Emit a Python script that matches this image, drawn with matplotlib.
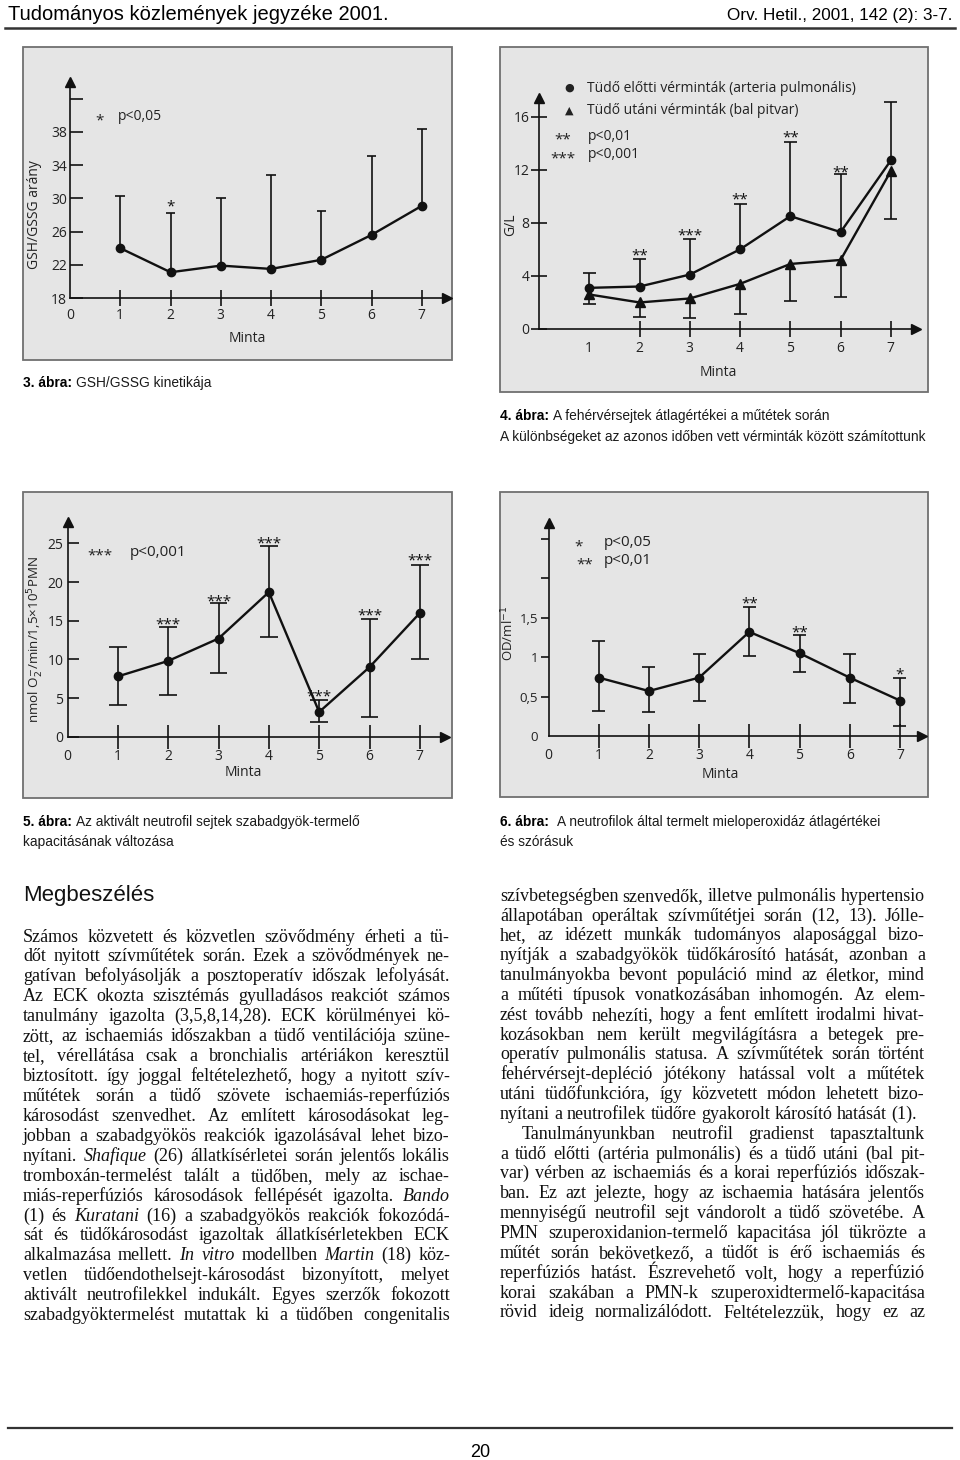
import matplotlib
matplotlib.use('Agg')
import matplotlib.pyplot as plt
import numpy as np
from matplotlib.patches import Rectangle
from matplotlib.lines import Line2D

# ---------------- data ----------------
minta = [1, 2, 3, 4, 5, 6, 7]

# 3. ábra  GSH/GSSG
gsh_mean = [24.0, 21.1, 21.9, 21.5, 22.6, 25.6, 29.1]
gsh_upper = [30.3, 28.2, 30.0, 32.8, 28.5, 35.1, 38.4]
gsh_stars = ['', '*', '', '', '', '', '']
gsh_star_y = [0, 29.6, 0, 0, 0, 0, 0]
gsh_yticks = [18, 22, 26, 30, 34, 38, 42]
gsh_yticklabels = ['18', '22', '26', '30', '34', '38', '']

# 4. ábra  fehérvérsejtek (G/L)
wbc_pre_mean = [3.1, 3.2, 4.1, 6.0, 8.5, 7.3, 12.7]
wbc_pre_upper = [4.2, 5.3, 6.8, 9.4, 14.1, 11.7, 17.1]
wbc_post_mean = [2.6, 2.0, 2.3, 3.4, 4.9, 5.2, 11.9]
wbc_post_lower = [1.9, 0.9, 0.8, 1.1, 2.1, 2.4, 8.3]
wbc_stars = ['', '**', '***', '**', '**', '**', '']
wbc_star_y = [0, 5.9, 7.4, 10.1, 14.8, 12.2, 0]
wbc_yticks = [0, 4, 8, 12, 16]

# 5. ábra  szabadgyök-termelő kapacitás
pmn_mean = [7.8, 9.8, 12.7, 18.7, 3.2, 9.0, 16.0]
pmn_upper = [11.6, 14.2, 17.3, 24.7, 4.7, 15.2, 22.2]
pmn_lower = [4.1, 5.4, 8.2, 12.9, 1.9, 2.6, 10.1]
pmn_stars = ['', '***', '***', '***', '***', '***', '***']
pmn_star_y = [0, 15.2, 18.1, 25.7, 5.8, 16.3, 23.5]
pmn_yticks = [0, 5, 10, 15, 20, 25]

# 6. ábra  mieloperoxidáz
mpo_mean = [0.74, 0.57, 0.74, 1.32, 1.05, 0.74, 0.45]
mpo_upper = [1.20, 0.88, 1.04, 1.63, 1.28, 1.04, 0.73]
mpo_lower = [0.32, 0.31, 0.45, 1.02, 0.81, 0.42, 0.13]
mpo_stars = ['', '', '', '**', '**', '', '*']
mpo_star_y = [0, 0, 0, 1.75, 1.37, 0, 0.85]
mpo_yticks = [0, 0.5, 1.0, 1.5, 2.0, 2.5]
mpo_yticklabels = ['0', '0,5', '1', '1,5', '', '']

xticks = [0, 1, 2, 3, 4, 5, 6, 7]

header_left = 'Tudományos közlemények jegyzéke 2001.'
header_right = 'Orv. Hetil., 2001, 142 (2): 3-7.'
page_number = '20'

cap3 = [('3. ábra:', ' GSH/GSSG kinetikája')]
cap4 = [('4. ábra:', ' A fehérvérsejtek átlagértékei a műtétek során'),
        ('', 'A különbségeket az azonos időben vett vérminták között számítottunk')]
cap5 = [('5. ábra:', ' Az aktivált neutrofil sejtek szabadgyök-termelő'),
        ('', 'kapacitásának változása')]
cap6 = [('6. ábra:', '  A neutrofilok által termelt mieloperoxidáz átlagértékei'),
        ('', 'és szórásuk')]

section_title = 'Megbeszélés'

left_lines = [
    "Számos közvetett és közvetlen szövődmény érheti a tü-",
    "dőt nyitott szívműtétek során. Ezek a szövődmények ne-",
    "gatívan befolyásolják a posztoperatív időszak lefolyását.",
    "Az ECK okozta szisztémás gyulladásos reakciót számos",
    "tanulmány igazolta (3,5,8,14,28). ECK körülményei kö-",
    "zött, az ischaemiás időszakban a tüdő ventilációja szüne-",
    "tel, vérellátása csak a bronchialis artériákon keresztül",
    "biztosított. így joggal feltételezhető, hogy a nyitott szív-",
    "műtétek során a tüdő szövete ischaemiás-reperfúziós",
    "károsodást szenvedhet. Az említett károsodásokat leg-",
    "jobban a szabadgyökös reakciók igazolásával lehet bizo-",
    "nyítani. _Shafique_ (26) állatkísérletei során jelentős lokális",
    "tromboxán-termelést talált a tüdőben, mely az ischae-",
    "miás-reperfúziós károsodások fellépését igazolta. _Bando_",
    "(1) és _Kuratani_ (16) a szabadgyökös reakciók fokozódá-",
    "sát és tüdőkárosodást igazoltak állatkísérletekben ECK",
    "alkalmazása mellett. _In_ _vitro_ modellben _Martin_ (18) köz-",
    "vetlen tüdőendothelsejt-károsodást bizonyított, melyet",
    "aktivált neutrofilekkel indukált. Egyes szerzők fokozott",
    "szabadgyöktermelést mutattak ki a tüdőben congenitalis",
]
right_lines = [
    "szívbetegségben szenvedők, illetve pulmonális hypertensio",
    "állapotában operáltak szívműtétjei során (12, 13). Jólle-",
    "het, az idézett munkák tudományos alaposággal bizo-",
    "nyítják a szabadgyökök tüdőkárosító hatását, azonban a",
    "tanulmányokba bevont populáció mind az életkor, mind",
    "a műtéti típusok vonatkozásában inhomogén. Az elem-",
    "zést tovább nehezíti, hogy a fent említett irodalmi hivat-",
    "kozásokban nem került megvilágításra a betegek pre-",
    "operatív pulmonális statusa. A szívműtétek során történt",
    "fehérvérsejt-depléció jótékony hatással volt a műtétek",
    "utáni tüdőfunkcióra, így közvetett módon lehetett bizo-",
    "nyítani a neutrofilek tüdőre gyakorolt károsító hatását (1).",
    "Tanulmányunkban neutrofil gradienst tapasztaltunk",
    "a tüdő előtti (artéria pulmonális) és a tüdő utáni (bal pit-",
    "var) vérben az ischaemiás és a korai reperfúziós időszak-",
    "ban. Ez azt jelezte, hogy az ischaemia hatására jelentős",
    "mennyiségű neutrofil sejt vándorolt a tüdő szövetébe. A",
    "PMN szuperoxidanion-termelő kapacitása jól tükrözte a",
    "műtét során bekövetkező, a tüdőt is érő ischaemiás és",
    "reperfúziós hatást. Észrevehető volt, hogy a reperfúzió",
    "korai szakában a PMN-k szuperoxidtermelő-kapacitása",
    "rövid ideig normalizálódott. Feltételezzük, hogy ez az",
]
right_par_end = 11      # last line of a paragraph (not stretched)
right_indent = 12       # first line of the next paragraph

# ---------------- styles ----------------
SANS = ['Open Sans', 'DejaVu Sans']
NARROW = ['Liberation Sans Narrow', 'Liberation Sans', 'DejaVu Sans']
HELV = ['Liberation Sans', 'DejaVu Sans']
SERIF = ['Liberation Serif', 'DejaVu Serif']
PANEL_BG = '#e5e5e5'
PANEL_EDGE = '#707070'
INK = '#111111'
CH_FS = 10

W, H = 960, 1460
fig = plt.figure(figsize=(W / 100, H / 100), dpi=100)
fig.patch.set_facecolor('white')
R = fig.canvas.get_renderer()


def fxy(x, y):
    return x / W, 1 - y / H


def panel(l, t, r, b):
    rect = Rectangle(fxy(l, b), (r - l) / W, (b - t) / H, transform=fig.transFigure,
                     facecolor=PANEL_BG, edgecolor=PANEL_EDGE, lw=1.3, zorder=-10)
    fig.add_artist(rect)


def make_axes(l, t, r, b, xlim, ylim):
    ax = fig.add_axes([l / W, 1 - b / H, (r - l) / W, (b - t) / H])
    ax.set_facecolor('none')
    ax.set_xlim(*xlim)
    ax.set_ylim(*ylim)
    for s in ('top', 'right'):
        ax.spines[s].set_visible(False)
    for s in ('left', 'bottom'):
        ax.spines[s].set_linewidth(1.2)
        ax.spines[s].set_color(INK)
    ax.plot(1, 0, '>', color=INK, ms=7, transform=ax.transAxes, clip_on=False)
    ax.plot(0, 1, '^', color=INK, ms=7, transform=ax.transAxes, clip_on=False)
    ax.set_xticks(xticks)
    ax.set_xticklabels([str(v) for v in xticks])
    ax.get_xaxis().get_major_ticks()[0].tick1line.set_visible(False)
    for lab in ax.get_xticklabels() + ax.get_yticklabels():
        lab.set_family(SANS)
        lab.set_fontsize(CH_FS)
        lab.set_color('#222222')
    return ax


def ftext(x, y, s, **kw):
    kw.setdefault('family', SANS)
    kw.setdefault('fontsize', CH_FS)
    kw.setdefault('color', '#222222')
    kw.setdefault('va', 'center')
    return fig.text(*fxy(x, y), s, **kw)


def err_up(ax, xs, mean, top, half):
    ax.vlines(xs, mean, top, color=INK, lw=1.2)
    ax.hlines(top, np.array(xs) - half, np.array(xs) + half, color=INK, lw=1.2)


def err_down(ax, xs, mean, low, half):
    ax.vlines(xs, low, mean, color=INK, lw=1.2)
    ax.hlines(low, np.array(xs) - half, np.array(xs) + half, color=INK, lw=1.2)


def stars(ax, xs, labels, ys):
    for x, s, y in zip(xs, labels, ys):
        if s:
            ax.annotate(s, (x, y), xytext=(0, -6.5), textcoords='offset points',
                        ha='center', va='baseline', fontsize=CH_FS + 1, family=SANS,
                        color=INK)


# ======== 3. ábra ========
panel(23, 47, 452, 360)
ax1 = make_axes(70, 82, 447, 298, (0, 7.5), (18, 44))
ax1.set_yticks(gsh_yticks)
ax1.set_yticklabels(gsh_yticklabels, family=SANS, fontsize=CH_FS, color='#222222')
ax1.tick_params(axis='y', direction='in', length=9, width=1.1, pad=2)
ax1.tick_params(axis='x', direction='inout', length=12, width=1.1, pad=1)
err_up(ax1, minta, gsh_mean, gsh_upper, 0.095)
ax1.plot(minta, gsh_mean, '-o', color=INK, lw=1.7, ms=6)
stars(ax1, minta, gsh_stars, gsh_star_y)
ftext(100, 124, '*', ha='center', va='baseline', fontsize=CH_FS + 1)
ftext(118, 117, 'p<0,05')
ftext(35, 215, 'GSH/GSSG arány', rotation=90, ha='center')
ftext(247, 338, 'Minta', ha='center')

# ======== 4. ábra ========
panel(500, 47, 928, 392)
ax2 = make_axes(539, 98, 916, 329, (0, 7.5), (0, 17.4))
ax2.set_xticks(minta)
ax2.set_xticklabels([str(v) for v in minta], family=SANS, fontsize=CH_FS, color='#222222')
ax2.set_yticks(wbc_yticks)
ax2.set_yticklabels([str(v) for v in wbc_yticks], family=SANS, fontsize=CH_FS, color='#222222')
ax2.tick_params(axis='y', direction='inout', length=12, width=1.1, pad=1)
ax2.tick_params(axis='x', direction='inout', length=12, width=1.1, pad=3)
err_up(ax2, minta, wbc_pre_mean, wbc_pre_upper, 0.13)
err_down(ax2, minta, wbc_post_mean, wbc_post_lower, 0.13)
ax2.plot(minta, wbc_pre_mean, '-o', color=INK, lw=1.7, ms=6)
ax2.plot(minta, wbc_post_mean, '-^', color=INK, lw=1.7, ms=7)
stars(ax2, minta, wbc_stars, wbc_star_y)
ftext(569, 88, '●', ha='center', fontsize=8, family=['DejaVu Sans'])
ftext(587, 88, 'Tüdő előtti vérminták (arteria pulmonális)')
ftext(569, 111, '▲', ha='center', fontsize=8, family=['DejaVu Sans'])
ftext(587, 111, 'Tüdő utáni vérminták (bal pitvar)')
ftext(563, 143, '**', ha='center', va='baseline', fontsize=CH_FS + 1)
ftext(588, 136, 'p<0,01')
ftext(563, 162, '***', ha='center', va='baseline', fontsize=CH_FS + 1)
ftext(588, 155, 'p<0,001')
ftext(511, 225, 'G/L', rotation=90, ha='center')
ftext(718, 373, 'Minta', ha='center')

# ======== 5. ábra ========
panel(23, 492, 452, 798)
ax3 = make_axes(67.5, 521.8, 445, 736.7, (0, 7.5), (0, 27.8))
ax3.set_yticks(pmn_yticks)
ax3.set_yticklabels([str(v) for v in pmn_yticks], family=SANS, fontsize=CH_FS, color='#222222')
ax3.tick_params(axis='y', direction='in', length=8, width=1.1, pad=3)
ax3.tick_params(axis='x', direction='inout', length=17, width=1.1, pad=0)
err_up(ax3, minta, pmn_mean, pmn_upper, 0.175)
err_down(ax3, minta, pmn_mean, pmn_lower, 0.175)
ax3.plot(minta, pmn_mean, '-o', color=INK, lw=1.7, ms=6)
stars(ax3, minta, pmn_stars, pmn_star_y)
ftext(100, 559, '***', ha='center', va='baseline', fontsize=CH_FS + 1)
ftext(130, 552, 'p<0,001', fontsize=CH_FS + 1)
ftext(36, 640, r'nmol O$_2^{-}$/min/1,5×10$^5$PMN', rotation=90, ha='center', fontsize=9.6)
ftext(243, 773, 'Minta', ha='center')

# ======== 6. ábra ========
panel(500, 492, 928, 797)
ax4 = make_axes(548.5, 523, 922, 736, (0, 7.44), (0, 2.7))
ax4.set_yticks(mpo_yticks)
ax4.set_yticklabels(mpo_yticklabels, family=SANS, fontsize=9.5, color='#222222')
ax4.get_yaxis().get_major_ticks()[0].tick1line.set_visible(False)
ax4.tick_params(axis='y', direction='out', length=6, width=1.1, pad=1.5)
ax4.tick_params(axis='x', direction='inout', length=17, width=1.1, pad=0)
err_up(ax4, minta, mpo_mean, mpo_upper, 0.13)
err_down(ax4, minta, mpo_mean, mpo_lower, 0.13)
ax4.plot(minta, mpo_mean, '-o', color=INK, lw=1.7, ms=6)
stars(ax4, minta, mpo_stars, mpo_star_y)
ftext(579, 550, '*', ha='center', va='baseline', fontsize=CH_FS + 1)
ftext(604, 543, 'p<0,05', fontsize=CH_FS + 1)
ftext(585, 568, '**', ha='center', va='baseline', fontsize=CH_FS + 1)
ftext(604, 561, 'p<0,01', fontsize=CH_FS + 1)
ftext(508, 633, r'OD/ml$^{-1}$', rotation=90, ha='center', fontsize=9.5)
ftext(720, 774, 'Minta', ha='center')


# ---------------- page texts ----------------
def width_of(s, **kw):
    t = fig.text(0, 0, s, **kw)
    w = t.get_window_extent(R).width
    t.remove()
    return w


def runs_text(x, y, bold, normal, size, family, color='#1a1a1a'):
    cx = x
    if bold:
        t = fig.text(*fxy(cx, y), bold, fontsize=size, family=family, weight='bold',
                     va='baseline', color='black')
        cx += t.get_window_extent(R).width
    if normal:
        sp = width_of('a a', fontsize=size, family=family) - width_of('aa', fontsize=size, family=family)
        lead = len(normal) - len(normal.lstrip(' '))
        if bold:
            cx += sp * lead
        fig.text(*fxy(cx, y), normal.lstrip(' '), fontsize=size, family=family,
                 va='baseline', color=color)


# header
fig.text(*fxy(8, 20), header_left, fontsize=14.5, family=NARROW, va='baseline', color='black')
fig.text(*fxy(952, 20), header_right, fontsize=12.3, family=NARROW, va='baseline',
         ha='right', color='black')
fig.add_artist(Line2D([5 / W, 955 / W], [1 - 28 / H, 1 - 28 / H], color='#333333', lw=1.8))

# caption size fitted so the longest caption line fits its column
_w = width_of(cap4[1][1], fontsize=11, family=NARROW)
CAP_FS = 11 * 425 / _w
runs_text(23, 387, cap3[0][0], cap3[0][1], CAP_FS, NARROW)
runs_text(500, 420, cap4[0][0], cap4[0][1], CAP_FS, NARROW)
runs_text(500, 441, cap4[1][0], cap4[1][1], CAP_FS, NARROW)
runs_text(23, 826, cap5[0][0], cap5[0][1], CAP_FS, NARROW)
runs_text(23, 846, cap5[1][0], cap5[1][1], CAP_FS, NARROW)
runs_text(500, 826, cap6[0][0], cap6[0][1], CAP_FS, NARROW)
runs_text(500, 846, cap6[1][0], cap6[1][1], CAP_FS, NARROW)

fig.text(*fxy(23, 900.5), section_title, fontsize=16, family=HELV, va='baseline', color='#111111')


def parse(line):
    out = []
    for wd in line.split(' '):
        if wd.startswith('_') and wd.endswith('_'):
            out.append((wd[1:-1], 'italic'))
        else:
            out.append((wd, 'normal'))
    return out


def bw(s, style='normal', fs=None):
    return width_of(s, fontsize=fs if fs else BODY_FS, family=SERIF, style=style)


# choose the body size so that the tightest justified line keeps a word gap
FS0 = 12.0
MIN_GAP = 4.0
cands = []
for lines, x0, x1, skip in ((left_lines, 23, 450, -1), (right_lines, 500, 925, right_par_end)):
    for i, ln in enumerate(lines):
        if i == skip:
            continue
        x0b = 522 if (lines is right_lines and i == right_indent) else x0
        words = parse(ln)
        tot = sum(bw(w, st, FS0) for w, st in words)
        cands.append(FS0 * (x1 - x0b - MIN_GAP * (len(words) - 1)) / tot)
BODY_FS = min(min(cands), 13.5)
SPACE_W = bw('a a') - bw('aa')


def set_line(line, x0, x1, y, justify=True):
    y = round(y)
    items = []
    for wd, style in parse(line):
        t = fig.text(*fxy(x0, y), wd, fontsize=BODY_FS, family=SERIF, style=style,
                     va='baseline', color='#111111')
        items.append((t, t.get_window_extent(R).width))
    total = sum(w for _, w in items)
    if justify and len(items) > 1:
        gap = (x1 - x0 - total) / (len(items) - 1)
    else:
        gap = SPACE_W
    cx = x0
    for t, w in items:
        t.set_position(fxy(cx, y))
        cx += w + gap


for i, ln in enumerate(left_lines):
    set_line(ln, 23, 450, 941.5 + i * 19.93)
for i, ln in enumerate(right_lines):
    x0 = 522 if i == right_indent else 500
    set_line(ln, x0, 925, 900.7 + i * 19.84, justify=(i != right_par_end))

# footer
fig.add_artist(Line2D([8 / W, 952 / W], [1 - 1428 / H, 1 - 1428 / H], color='#333333', lw=1.6))
fig.text(*fxy(480, 1457), page_number, fontsize=13, family=NARROW, va='baseline',
         ha='center', color='black')

fig.savefig('out.png', dpi=100, facecolor='white')
